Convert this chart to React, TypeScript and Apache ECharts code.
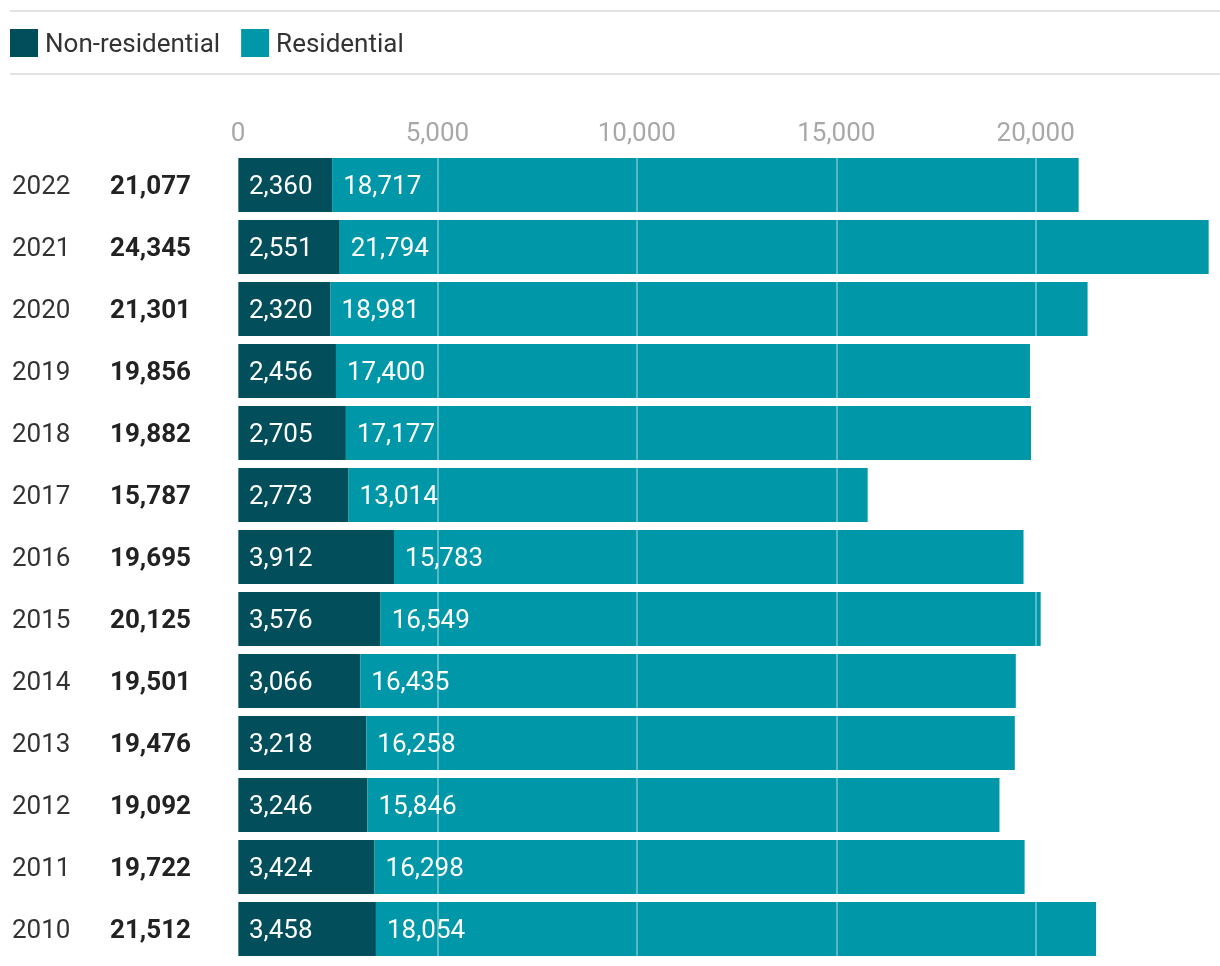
import React, { useEffect, useRef } from "react";
import * as echarts from "echarts";

const years = ["2022", "2021", "2020", "2019", "2018", "2017", "2016", "2015", "2014", "2013", "2012", "2011", "2010"];
const nonResidential = [2360, 2551, 2320, 2456, 2705, 2773, 3912, 3576, 3066, 3218, 3246, 3424, 3458];
const residential = [18717, 21794, 18981, 17400, 17177, 13014, 15783, 16549, 16435, 16258, 15846, 16298, 18054];
const totals = years.map((_, i) => nonResidential[i] + residential[i]);

const fmt = (v: number) => v.toLocaleString("en-US");
const FONT = "Roboto, 'Noto Sans', sans-serif";
const FS = 26;

export default function App() {
  const ref = useRef<HTMLDivElement>(null);
  useEffect(() => {
    if (!ref.current) return;
    const chart = echarts.init(ref.current, undefined, { renderer: "svg" });
    const maxTotal = Math.max(...totals);
    chart.setOption({
      animation: false,
      textStyle: { fontFamily: FONT },
      legend: {
        left: 10,
        top: 29,
        padding: 0,
        itemWidth: 28,
        itemHeight: 28,
        itemGap: 21,
        icon: "rect",
        textStyle: { fontSize: FS, color: "#333", fontFamily: FONT, padding: [0, 0, 0, 2] },
        data: ["Non-residential", "Residential"],
      },
      graphic: [
        { type: "line", shape: { x1: 10, y1: 11, x2: 1220, y2: 11 }, style: { stroke: "#e3e3e3", lineWidth: 2 } },
        { type: "line", shape: { x1: 10, y1: 74, x2: 1220, y2: 74 }, style: { stroke: "#e3e3e3", lineWidth: 2 } },
      ],
      grid: { left: 238, top: 154, width: 1209 - 238, height: 806 },
      xAxis: {
        type: "value",
        position: "top",
        min: 0,
        max: maxTotal,
        interval: 5000,
        z: 10,
        axisLine: { show: false },
        axisTick: { show: false },
        axisLabel: {
          fontSize: FS,
          color: "#a8a8a8",
          margin: 9,
          fontFamily: FONT,
          showMaxLabel: false,
          formatter: (v: number) => fmt(v),
        },
        splitLine: { show: true, lineStyle: { color: "rgba(255,255,255,0.45)", width: 1.5 } },
      },
      yAxis: {
        type: "category",
        inverse: true,
        data: years,
        axisLine: { show: false },
        axisTick: { show: false },
        axisLabel: {
          align: "left",
          margin: 226,
          formatter: (v: string, i: number) => `{y|${v}}{t|${fmt(totals[i])}}`,
          rich: {
            y: { fontSize: FS, color: "#333", width: 98, fontFamily: FONT },
            t: { fontSize: FS, color: "#222", fontWeight: "bold", fontFamily: FONT },
          },
        },
      },
      series: [
        {
          name: "Non-residential",
          type: "bar",
          stack: "total",
          barWidth: 54,
          data: nonResidential,
          itemStyle: { color: "#024e5b" },
          label: {
            show: true,
            position: "insideLeft",
            distance: 11,
            color: "#fff",
            fontSize: FS,
            fontFamily: FONT,
            formatter: (p: any) => fmt(p.value),
          },
        },
        {
          name: "Residential",
          type: "bar",
          stack: "total",
          barWidth: 54,
          data: residential,
          itemStyle: { color: "#0097a9" },
          label: {
            show: true,
            position: "insideLeft",
            distance: 11,
            color: "#fff",
            fontSize: FS,
            fontFamily: FONT,
            formatter: (p: any) => fmt(p.value),
          },
        },
      ],
    });
    return () => chart.dispose();
  }, []);
  return <div ref={ref} style={{ position: "fixed", left: 0, top: 0, width: 1220, height: 966 }} />;
}
